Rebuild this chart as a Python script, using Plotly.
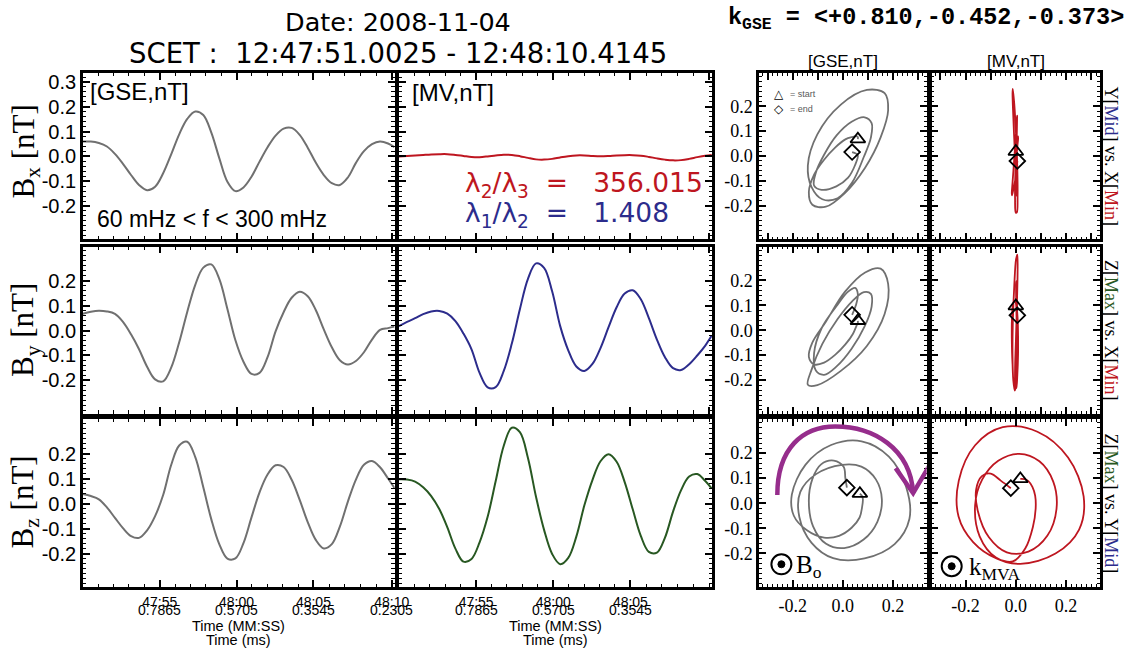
import numpy as np
import plotly.graph_objects as go

W, H = 1135, 650

# ---------------- data (time in s after 12:47:00) ----------------
time_s = [51.0, 51.5, 52.0, 52.5, 53.0, 53.5, 54.0, 54.5, 55.0, 55.5,
          56.0, 56.5, 57.0, 57.5, 58.0, 58.5, 59.0, 59.5, 60.0, 60.5,
          61.0, 61.5, 62.0, 62.5, 63.0, 63.5, 64.0, 64.5, 65.0, 65.5,
          66.0, 66.5, 67.0, 67.5, 68.0, 68.5, 69.0, 69.5, 70.0, 70.4]

bx_gse = [0.060, 0.060, 0.054, 0.040, 0.010, -0.030, -0.075, -0.115, -0.136, -0.122,
          -0.068, 0.008, 0.089, 0.151, 0.181, 0.167, 0.096, -0.008, -0.102, -0.140,
          -0.125, -0.082, -0.021, 0.037, 0.084, 0.112, 0.115, 0.087, 0.035, -0.025,
          -0.075, -0.108, -0.115, -0.085, -0.026, 0.021, 0.049, 0.060, 0.052, 0.037]

by_gse = [0.068, 0.076, 0.080, 0.077, 0.067, 0.035, -0.015, -0.075, -0.145, -0.196,
          -0.204, -0.149, -0.047, 0.075, 0.184, 0.253, 0.266, 0.207, 0.087, -0.039,
          -0.125, -0.174, -0.170, -0.107, -0.003, 0.074, 0.132, 0.156, 0.138, 0.083,
          0.005, -0.067, -0.119, -0.136, -0.122, -0.087, -0.036, 0.003, 0.010, 0.016]

bz_gse = [0.038, 0.030, 0.017, -0.015, -0.057, -0.098, -0.130, -0.137, -0.107, -0.050,
          0.034, 0.154, 0.232, 0.247, 0.186, 0.065, -0.063, -0.163, -0.220, -0.219,
          -0.158, -0.055, 0.045, 0.116, 0.153, 0.146, 0.095, 0.015, -0.074, -0.145,
          -0.179, -0.162, -0.092, 0.008, 0.096, 0.155, 0.170, 0.145, 0.100, 0.062]

bx_mv = [0.000, 0.002, 0.004, 0.006, 0.008, 0.009, 0.009, 0.006, 0.002, -0.002,
         -0.003, 0.000, 0.004, 0.007, 0.006, 0.001, -0.006, -0.012, -0.013, -0.010,
         -0.004, 0.001, 0.004, 0.004, 0.002, 0.001, 0.002, 0.004, 0.005, 0.005,
         0.003, -0.002, -0.008, -0.013, -0.016, -0.015, -0.010, -0.003, 0.003, 0.006]

by_mv = [0.018, 0.035, 0.050, 0.066, 0.077, 0.079, 0.068, 0.038, -0.012, -0.075,
         -0.170, -0.228, -0.227, -0.162, -0.052, 0.086, 0.208, 0.270, 0.252, 0.158,
         0.018, -0.079, -0.144, -0.162, -0.134, -0.070, 0.014, 0.094, 0.149, 0.162,
         0.126, 0.050, -0.036, -0.107, -0.151, -0.158, -0.135, -0.100, -0.060, -0.020]

bz_mv = [0.097, 0.096, 0.088, 0.065, 0.030, -0.022, -0.095, -0.180, -0.232, -0.221,
         -0.155, -0.053, 0.090, 0.231, 0.303, 0.285, 0.182, 0.027, -0.105, -0.201,
         -0.242, -0.217, -0.132, -0.007, 0.094, 0.169, 0.197, 0.167, 0.086, -0.023,
         -0.129, -0.193, -0.196, -0.136, -0.032, 0.054, 0.108, 0.118, 0.090, 0.060]

t_range = [51.0025, 70.4145]
major_t = [55.7865, 60.5705, 65.3545, 70.2305]
mmss_lbl = ["47:55", "48:00", "48:05", "48:10"]
ms_lbl = ["0.7865", "0.5705", "0.3545", "0.2305"]
ratio_23 = "356.015"
ratio_12 = "1.408"

GRAY = "rgb(112,112,112)"
RED = "rgb(190,22,32)"
BLUE = "rgb(44,44,140)"
GREEN = "rgb(40,88,34)"
PURPLE = "rgb(150,45,140)"

# the photographed page comes out horizontally squeezed (~1118/1135); compensate
SX = 1118.0 / 1135.0


def fx(p):
    return p / (W * SX)


def fy(p):
    return 1 - p / H


cols = [(82.7, 394.0), (398.3, 710.7), (757.7, 925.0), (930.0, 1098.0)]
rows = [(71.0, 238.0), (245.5, 413.0), (418.5, 587.0)]


def nm(k):
    return "" if k == 1 else str(k)


# minor ticks for the time axes
minor_t = []
st = (major_t[1] - major_t[0]) / 5
v = major_t[0] - st
while v > t_range[0]:
    minor_t.append(v)
    v -= st
for a, b in zip(major_t[:-1], major_t[1:]):
    minor_t += list(np.linspace(a, b, 6)[1:-1])
v = major_t[-1] + st
while v < t_range[1]:
    minor_t.append(v)
    v += st


def base_axis():
    return dict(showline=True, linecolor="black", linewidth=2.5, mirror="allticks",
                ticks="inside", tickcolor="black", tickwidth=1.5, ticklen=7,
                showgrid=False, zeroline=False, fixedrange=True)


def fmt(v):
    return "%.1f" % v


layout_axes = {}
for r in range(3):
    for c in range(4):
        k = r * 4 + c + 1
        xa = base_axis()
        ya = base_axis()
        xa["domain"] = [fx(cols[c][0]), fx(cols[c][1])]
        ya["domain"] = [fy(rows[r][1]), fy(rows[r][0])]
        xa["anchor"] = "y" + nm(k)
        ya["anchor"] = "x" + nm(k)
        if c < 2:
            xt = major_t if (c == 0 or r < 2) else major_t[:3]
            mt = minor_t if xt is major_t else minor_t + [major_t[3]]
            xa.update(range=t_range, tickmode="array", tickvals=xt,
                      minor=dict(ticks="inside", ticklen=3.5, tickcolor="black", tickwidth=1,
                                 tickmode="array", tickvals=mt))
            if r == 2:
                xa.update(ticktext=mmss_lbl[:len(xt)], showticklabels=True,
                          tickfont=dict(family="Liberation Sans", size=14, color="black"))
            else:
                xa.update(showticklabels=False)
            yv = [-0.2, -0.1, 0.0, 0.1, 0.2, 0.3] if r == 0 else [-0.2, -0.1, 0.0, 0.1, 0.2]
            ya.update(range=[-0.334, 0.337], tickmode="array", tickvals=yv,
                      ticktext=[fmt(q) for q in yv],
                      showticklabels=(c == 0),
                      tickfont=dict(family="Liberation Sans", size=20, color="black"),
                      minor=dict(ticks="inside", ticklen=3.5, tickcolor="black", tickwidth=1,
                                 tickmode="linear", tick0=0, dtick=0.02))
        else:
            if r == 2:
                xv = [-0.2, 0.0, 0.2]
            else:
                xv = [-0.3, -0.2, -0.1, 0.0, 0.1, 0.2, 0.3]
            xa.update(range=[-0.335, 0.335], tickmode="array", tickvals=xv,
                      ticktext=[fmt(q) for q in xv],
                      showticklabels=(r == 2),
                      tickfont=dict(family="Liberation Serif", size=18, color="black"),
                      minor=dict(ticks="inside", ticklen=3, tickcolor="black", tickwidth=1,
                                 tickmode="linear", tick0=0, dtick=0.02))
            yv = [-0.2, -0.1, 0.0, 0.1, 0.2]
            ya.update(range=[-0.335, 0.335], tickmode="array", tickvals=yv,
                      ticktext=[fmt(q) for q in yv],
                      showticklabels=(c == 2),
                      tickfont=dict(family="Liberation Serif", size=18, color="black"),
                      minor=dict(ticks="inside", ticklen=3, tickcolor="black", tickwidth=1,
                                 tickmode="linear", tick0=0, dtick=0.02))
        layout_axes["xaxis" + nm(k)] = xa
        layout_axes["yaxis" + nm(k)] = ya

fig = go.Figure()

gse = [bx_gse, by_gse, bz_gse]
mv = [bx_mv, by_mv, bz_mv]
mv_colors = [RED, BLUE, GREEN]

for r in range(3):
    k = r * 4 + 1
    fig.add_trace(go.Scatter(x=time_s, y=gse[r], mode="lines",
                             line=dict(color=GRAY, width=2, shape="spline"),
                             xaxis="x" + nm(k), yaxis="y" + nm(k)))
    k = r * 4 + 2
    fig.add_trace(go.Scatter(x=time_s, y=mv[r], mode="lines",
                             line=dict(color=mv_colors[r], width=2, shape="spline"),
                             xaxis="x" + nm(k), yaxis="y" + nm(k)))

hodo_pairs = [(0, 1), (0, 2), (1, 2)]
for r, (a, b) in enumerate(hodo_pairs):
    for c, (src, colr) in enumerate([(gse, GRAY), (mv, RED)]):
        k = r * 4 + 3 + c
        xs, ys = src[a], src[b]
        fig.add_trace(go.Scatter(x=xs, y=ys, mode="lines",
                                 line=dict(color=colr, width=1.8, shape="spline"),
                                 xaxis="x" + nm(k), yaxis="y" + nm(k)))
        fig.add_trace(go.Scatter(x=[xs[0]], y=[ys[0]], mode="markers",
                                 marker=dict(symbol="triangle-up-open", size=13, color="black",
                                             line=dict(width=1.8, color="black")),
                                 xaxis="x" + nm(k), yaxis="y" + nm(k)))
        fig.add_trace(go.Scatter(x=[xs[-1]], y=[ys[-1]], mode="markers",
                                 marker=dict(symbol="diamond-open", size=12, color="black",
                                             line=dict(width=1.8, color="black")),
                                 xaxis="x" + nm(k), yaxis="y" + nm(k)))

ann = []


def add_text(text, x, y, size, family="Liberation Sans", color="black",
             xanchor="center", yanchor="middle", angle=0):
    ann.append(dict(text=text, x=fx(x), y=fy(y), xref="paper", yref="paper",
                    showarrow=False, xanchor=xanchor, yanchor=yanchor, textangle=angle,
                    font=dict(family=family, size=size, color=color)))


NB = "\u00a0"
add_text("Date: 2008-11-04", 397, 20, 25.5, family="DejaVu Sans")
add_text("SCET :" + NB + " 12:47:51.0025 - 12:48:10.4145",
         397, 51, 27.5, family="DejaVu Sans")
add_text("<b>k<sub>GSE</sub> = &lt;+0.810,-0.452,-0.373&gt;</b>", 725, 17, 23.5,
         family="Liberation Mono", xanchor="left")
add_text("[GSE,nT]", 841.5, 60, 17)
add_text("[MV,nT]", 1014, 60, 17)
add_text("[GSE,nT]", 88, 90, 24, xanchor="left")
add_text("[MV,nT]", 409, 91, 24, xanchor="left")
add_text("60 mHz &lt; f &lt; 300 mHz", 212, 218, 23)
add_text("λ<sub>2</sub>/λ<sub>3</sub>" + NB + NB + "=" + NB + NB + NB + ratio_23, 462, 183, 26.5,
         family="DejaVu Sans", color=RED, xanchor="left")
add_text("λ<sub>1</sub>/λ<sub>2</sub>" + NB + NB + "=" + NB + NB + NB + ratio_12, 462, 213, 26.5,
         family="DejaVu Sans", color=BLUE, xanchor="left")

# y-axis labels
for lab, yc in [("x", 150), ("y", 329), ("z", 502)]:
    add_text("B<sub>" + lab + "</sub> [nT]", 25, yc, 31, family="Liberation Serif", angle=-90)


def colw(w, c):
    return "<span style='color:" + c + "'>" + w + "</span>"


RX = 1109
add_text("Y[" + colw("Mid", BLUE) + "] vs. X[" + colw("Min", RED) + "]", RX, 155, 18,
         family="Liberation Serif", angle=90)
add_text("Z[" + colw("Max", GREEN) + "] vs. X[" + colw("Min", RED) + "]", RX, 330, 18,
         family="Liberation Serif", angle=90)
add_text("Z[" + colw("Max", GREEN) + "] vs. Y[" + colw("Mid", BLUE) + "]", RX, 503, 18,
         family="Liberation Serif", angle=90)

# start / end legend
add_text("△", 778, 92, 12, family="DejaVu Sans")
add_text("= start", 787, 92, 9, color="rgb(90,90,90)", xanchor="left")
add_text("◇", 778, 107, 12, family="DejaVu Sans")
add_text("= end", 787, 107, 9, color="rgb(90,90,90)", xanchor="left")

# B_o and k_MVA
add_text("B<sub>o</sub>", 793, 566, 25, family="Liberation Serif", xanchor="left")
add_text("k<sub>MVA</sub>", 965, 568, 25, family="Liberation Serif", xanchor="left")

# time second-line labels and axis titles
for c, k in [(0, 9), (1, 10)]:
    n = 4 if c == 0 else 3
    for i in range(n):
        ann.append(dict(text=ms_lbl[i], x=major_t[i], y=fy(610), xref="x" + str(k),
                        yref="paper", showarrow=False, xanchor="center", yanchor="middle",
                        font=dict(family="Liberation Sans", size=14, color="black")))
    xc = (cols[c][0] + cols[c][1]) / 2
    add_text("Time (MM:SS)", xc, 626, 14.5)
    add_text("Time (ms)", xc, 640, 14.5)

shapes = []
for (cx, cy) in [(780, 564), (950, 566)]:
    shapes.append(dict(type="circle", xref="paper", yref="paper", xsizemode="pixel",
                       ysizemode="pixel", xanchor=fx(cx), yanchor=fy(cy),
                       x0=-10, x1=10, y0=-10, y1=10, line=dict(color="black", width=2)))
    shapes.append(dict(type="circle", xref="paper", yref="paper", xsizemode="pixel",
                       ysizemode="pixel", xanchor=fx(cx), yanchor=fy(cy),
                       x0=-3.5, x1=3.5, y0=-3.5, y1=3.5, fillcolor="black",
                       line=dict(color="black", width=1)))

shapes.append(dict(type="path", xref="x11", yref="y11",
                   path="M -0.262,0.033 C -0.262,0.22 -0.16,0.306 -0.03,0.306 "
                        "C 0.12,0.306 0.27,0.22 0.281,0.04",
                   line=dict(color=PURPLE, width=4.5)))
shapes.append(dict(type="path", xref="x11", yref="y11",
                   path="M 0.211,0.14 L 0.281,0.04 L 0.344,0.147",
                   line=dict(color=PURPLE, width=4.5)))

fig.update_layout(width=W, height=H, margin=dict(l=0, r=0, t=0, b=0),
                  paper_bgcolor="white", plot_bgcolor="white", showlegend=False,
                  annotations=ann, shapes=shapes, **layout_axes)

fig.write_html("out.html")
